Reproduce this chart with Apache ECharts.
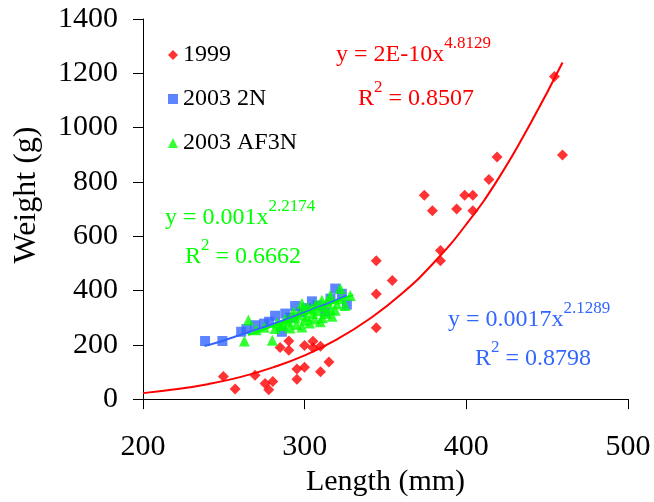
<!DOCTYPE html>
<html><head><meta charset="utf-8">
<script src="https://cdn.jsdelivr.net/npm/echarts@6/dist/echarts.min.js"></script>
<style>html,body{margin:0;padding:0;background:#fff}#c{width:654px;height:502px}</style>
</head><body><div id="c"></div>
<script>
const seriesNames = ['1999', '2003 2N', '2003 AF3N'];
const xTicks = [200, 300, 400, 500];
const yTicks = [0, 200, 400, 600, 800, 1000, 1200, 1400];

const pts1999 = [[249.7,83],[257,37],[269.3,88],[275.5,57],[280.3,65],[277.8,34],[284.8,190],[290.2,214],[290.2,180],[295.2,111],[295.2,73],[299.9,117],[299.9,197],[305.1,213],[305.1,189],[309.8,195],[309.8,101],[315,137],[344.3,510],[344.3,387],[344.3,263],[354.2,437],[374,751],[379,694],[384,547],[384,510],[394,700],[399,751],[404,751],[404,694],[414,809],[419,892],[454.5,1188],[459.5,899]];
const pts2N = [[238.4,214],[249.1,214],[260.7,248],[264,258],[269.3,272],[274.9,278],[278,285],[281.7,307],[285.9,248],[288,315],[291,300],[294.1,343],[298,320],[301,335],[304.5,360],[308,345],[312.7,321],[316,370],[318.9,407],[323,388],[326.1,348]];
const ptsAF3N = [[262.7,214],[265.2,291],[270,255],[275,265],[280,217],[281.7,260],[283,280],[285,270],[286.9,272],[288,295],[290,285],[291,262],[293.1,321],[294,300],[295,275],[296,310],[298.3,352],[298.3,266],[299,330],[300,290],[301,305],[302,340],[303,280],[304.5,333],[305,315],[306,295],[307,350],[308,325],[309.6,285],[310.6,364],[311,300],[312,340],[313,315],[314,360],[315.8,382],[316,330],[317,305],[318.9,327],[320,350],[322,407],[323,370],[325,345],[328.2,382]];

const trend1999 = [[200,22],[220,36],[240,55],[260,81],[280,116],[300,161],[320,220],[340,295],[360,388],[380,503],[400,644],[420,814],[440,1019],[459.5,1240]];
const trend2N = [[238,195],[250,216],[260,236],[270,256],[280,276],[290,297],[300,319],[310,342],[320,366],[326,381]];
const trendAF3N = [[265,236],[275,257],[285,279],[295,302],[305,326],[315,347],[322,365],[330,384]];

const eq1999 = { a: 'y = 2E-10x', p: '4.8129', r2: '0.8507' };
const eq2N = { a: 'y = 0.0017x', p: '2.1289', r2: '0.8798' };
const eqAF3N = { a: 'y = 0.001x', p: '2.2174', r2: '0.6662' };

const RED = '#ff0000', BLUE = '#3366ff', GREEN = '#00ff00';
const FONT = 'Liberation Serif';

function eqRich(color) {
  return {
    m: { fontSize: 24, fontFamily: FONT, fill: color, lineHeight: 40 },
    s: { fontSize: 17, fontFamily: FONT, fill: color, lineHeight: 17, verticalAlign: 'top' }
  };
}
function eqText(x, y, str, color) {
  return { type: 'text', x: x, y: y, z: 100,
    style: { text: str, rich: eqRich(color), fill: color, align: 'left', verticalAlign: 'middle' } };
}

const chart = echarts.init(document.getElementById('c'), null, { renderer: 'canvas' });
chart.setOption({
  animation: false,
  backgroundColor: '#ffffff',
  grid: { left: 143, right: 26, top: 19, bottom: 101, containLabel: false },
  legend: {
    orient: 'vertical', left: 168, top: 43, padding: 0, itemGap: 20,
    itemWidth: 10, itemHeight: 10,
    textStyle: { fontFamily: FONT, fontSize: 24, color: '#000', lineHeight: 24 },
    data: [
      { name: seriesNames[0], icon: 'diamond' },
      { name: seriesNames[1], icon: 'rect' },
      { name: seriesNames[2], icon: 'triangle' }
    ]
  },
  xAxis: {
    type: 'value', min: xTicks[0], max: xTicks[xTicks.length - 1], interval: 100,
    name: 'Length (mm)', nameLocation: 'middle', nameGap: 64,
    nameTextStyle: { fontFamily: FONT, fontSize: 30, color: '#000' },
    axisLine: { onZero: false, lineStyle: { color: '#000', width: 1 } },
    axisTick: { show: true, length: 10, lineStyle: { color: '#000' } },
    axisLabel: { margin: 33, fontFamily: FONT, fontSize: 30, color: '#000', formatter: v => String(v) },
    splitLine: { show: false }
  },
  yAxis: {
    type: 'value', min: yTicks[0], max: yTicks[yTicks.length - 1], interval: 200,
    axisLine: { show: true, onZero: false, lineStyle: { color: '#000', width: 1 } },
    axisTick: { show: true, length: 10, lineStyle: { color: '#000' } },
    axisLabel: { margin: 25, fontFamily: FONT, fontSize: 30, color: '#000', formatter: v => String(v) },
    splitLine: { show: false }
  },
  graphic: [
    { type: 'text', x: 27, y: 195, rotation: Math.PI / 2, z: 100,
      style: { text: 'Weight (g)', font: '32px "Liberation Serif"', fill: '#000', align: 'center', verticalAlign: 'middle' } },
    eqText(336, 55, '{m|' + eq1999.a + '}{s|' + eq1999.p + '}', RED),
    eqText(358, 99, '{m|R}{s|2}{m| = ' + eq1999.r2 + '}', RED),
    eqText(165, 218, '{m|' + eqAF3N.a + '}{s|' + eqAF3N.p + '}', GREEN),
    eqText(185, 257, '{m|R}{s|2}{m| = ' + eqAF3N.r2 + '}', GREEN),
    eqText(448, 320, '{m|' + eq2N.a + '}{s|' + eq2N.p + '}', BLUE),
    eqText(475, 359, '{m|R}{s|2}{m| = ' + eq2N.r2 + '}', BLUE)
  ],
  series: [
    { name: seriesNames[0], type: 'scatter', data: pts1999, symbol: 'diamond', symbolSize: 11,
      itemStyle: { color: RED }, z: 2 },
    { name: seriesNames[1], type: 'scatter', data: pts2N, symbol: 'rect', symbolSize: 10,
      itemStyle: { color: BLUE }, z: 2 },
    { name: seriesNames[2], type: 'scatter', data: ptsAF3N, symbol: 'triangle', symbolSize: 11,
      itemStyle: { color: GREEN }, z: 3 },
    { name: 'trend1999', type: 'line', data: trend1999, showSymbol: false, symbol: 'none', smooth: true,
      lineStyle: { color: RED, width: 2 }, z: 4, silent: true },
    { name: 'trend2N', type: 'line', data: trend2N, showSymbol: false, symbol: 'none', smooth: true,
      lineStyle: { color: BLUE, width: 2 }, z: 4, silent: true },
    { name: 'trendAF3N', type: 'line', data: trendAF3N, showSymbol: false, symbol: 'none', smooth: true,
      lineStyle: { color: GREEN, width: 2 }, z: 4, silent: true }
  ]
});
</script></body></html>
